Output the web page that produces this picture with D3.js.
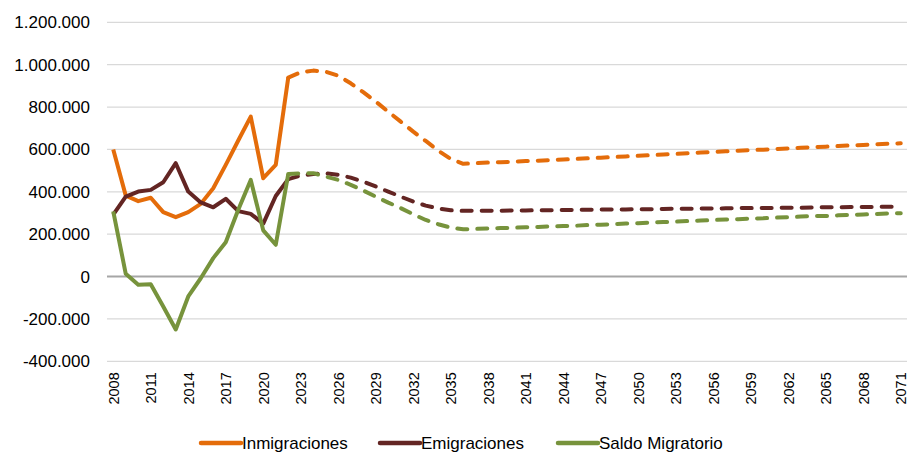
<!DOCTYPE html>
<html>
<head>
<meta charset="utf-8">
<script src="https://cdn.jsdelivr.net/npm/d3@7"></script>
<style>
  html, body { margin: 0; padding: 0; background: #fff; }
  svg { display: block; font-family: "Liberation Sans", Arial, sans-serif; }
</style>
</head>
<body>
<div id="chart"></div>
<script>
// Years shown on the category axis
const years = d3.range(2008, 2072);
const lastObserved = 2022; // lines turn dashed after this year

// Values in thousands of persons
const inmigraciones = [
  600, 382, 356, 372, 304, 280, 304, 343, 417, 527, 642, 755, 464, 527, 939,
  964, 972, 967, 948, 912, 870, 826, 778, 731, 684, 640, 594, 555, 532, 535, 538,
  540, 542, 545, 547, 550, 552, 555, 558, 561, 564, 567, 570, 573, 576, 579, 582,
  585, 588, 591, 594, 597, 599, 602, 605, 608, 611, 613, 616, 619, 621, 624, 627, 629
];
const emigraciones = [
  292, 377, 401, 409, 445, 535, 401, 350, 327, 367, 309, 296, 250, 380, 460,
  477, 484, 487, 480, 467, 448, 425, 401, 377, 354, 335, 321, 313, 310, 310, 311,
  311, 312, 312, 313, 313, 314, 315, 315, 316, 317, 317, 318, 318, 319, 320, 320,
  321, 321, 322, 323, 323, 324, 324, 325, 325, 326, 327, 327, 328, 328, 329, 329, 330
];
const saldoMigratorio = [
  308, 13, -39, -36, -141, -250, -94, -8, 87, 162, 315, 456, 218, 150, 484,
  487, 488, 472, 456, 433, 406, 377, 349, 323, 294, 267, 247, 231, 223, 225, 227,
  229, 230, 233, 234, 237, 238, 240, 243, 245, 247, 250, 252, 255, 257, 259, 262,
  264, 267, 269, 271, 274, 275, 278, 280, 283, 286, 286, 289, 291, 293, 295, 298, 299
];
const yTicks = [-400000, -200000, 0, 200000, 400000, 600000, 800000, 1000000, 1200000];
const xTicks = years.filter((y, i) => i % 3 === 0);

const series = [
  { name: "Inmigraciones", values: inmigraciones, color: "#E46C0A" },
  { name: "Emigraciones", values: emigraciones, color: "#632523" },
  { name: "Saldo Migratorio", values: saldoMigratorio, color: "#77933C" }
];

const W = 909, H = 452;
const plot = { left: 107, right: 907, top: 22.3, bottom: 361.3 };

const locale = d3.formatLocale({ decimal: ",", thousands: ".", grouping: [3], currency: ["", ""], minus: "-" });
const fmt = locale.format(",d");

const svg = d3.select("#chart").append("svg")
  .attr("width", W)
  .attr("height", H);

const x = d3.scalePoint()
  .domain(years)
  .range([plot.left, plot.right])
  .padding(0.5);

const y = d3.scaleLinear()
  .domain([-400000, 1200000])
  .range([plot.bottom, plot.top]);

// Horizontal grid lines
svg.append("g")
  .selectAll("line")
  .data(yTicks.filter(d => d !== 0))
  .enter().append("line")
  .attr("x1", plot.left)
  .attr("x2", plot.right)
  .attr("y1", d => y(d))
  .attr("y2", d => y(d))
  .attr("stroke", "#d9d9d9")
  .attr("stroke-width", 1.3);

// Zero line
svg.append("line")
  .attr("x1", plot.left)
  .attr("x2", plot.right)
  .attr("y1", y(0))
  .attr("y2", y(0))
  .attr("stroke", "#a6a6a6")
  .attr("stroke-width", 2);

// Y axis labels
svg.append("g")
  .attr("transform", `translate(${plot.left},0)`)
  .call(d3.axisLeft(y).tickValues(yTicks).tickSize(0).tickPadding(17).tickFormat(fmt))
  .call(g => g.select(".domain").remove())
  .call(g => g.selectAll(".tick text")
    .attr("fill", "#000")
    .style("font-size", "17px")
    .style("font-family", "Liberation Sans, Arial, sans-serif"));

// X axis labels (rotated)
svg.append("g")
  .attr("transform", `translate(0,${plot.bottom})`)
  .call(d3.axisBottom(x).tickValues(xTicks).tickSize(0).tickFormat(d3.format("d")))
  .call(g => g.select(".domain").remove())
  .call(g => g.selectAll(".tick text")
    .attr("fill", "#000")
    .attr("transform", "rotate(-90)")
    .attr("text-anchor", "end")
    .attr("dy", "0.35em")
    .attr("x", -11)
    .attr("y", 0)
    .style("font-size", "14.5px")
    .style("font-family", "Liberation Sans, Arial, sans-serif"));

// Lines: solid for observed years, dashed for projection
const line = d3.line()
  .x(d => x(d.year))
  .y(d => y(d.value * 1000));

series.forEach(s => {
  const pts = years.map((yr, i) => ({ year: yr, value: s.values[i] }));
  const observed = pts.filter(d => d.year <= lastObserved);
  const projected = pts.filter(d => d.year >= lastObserved);

  svg.append("path")
    .datum(projected)
    .attr("fill", "none")
    .attr("stroke", s.color)
    .attr("stroke-width", 4)
    .attr("stroke-linecap", "round")
    .attr("stroke-linejoin", "round")
    .attr("stroke-dasharray", "10,10")
    .attr("d", line);

  svg.append("path")
    .datum(observed)
    .attr("fill", "none")
    .attr("stroke", s.color)
    .attr("stroke-width", 4)
    .attr("stroke-linejoin", "round")
    .attr("d", line);
});

// Legend
const legendX = [201, 380, 558];
const legend = svg.append("g")
  .selectAll("g")
  .data(series)
  .enter().append("g")
  .attr("transform", (d, i) => `translate(${legendX[i]},443)`);

legend.append("line")
  .attr("x1", 0)
  .attr("x2", 40)
  .attr("stroke", d => d.color)
  .attr("stroke-width", 4.5)
  .attr("stroke-linecap", "round");

legend.append("text")
  .attr("x", 41)
  .attr("y", 0)
  .attr("dy", "0.36em")
  .style("font-size", "17px")
  .text(d => d.name);
</script>
</body>
</html>
